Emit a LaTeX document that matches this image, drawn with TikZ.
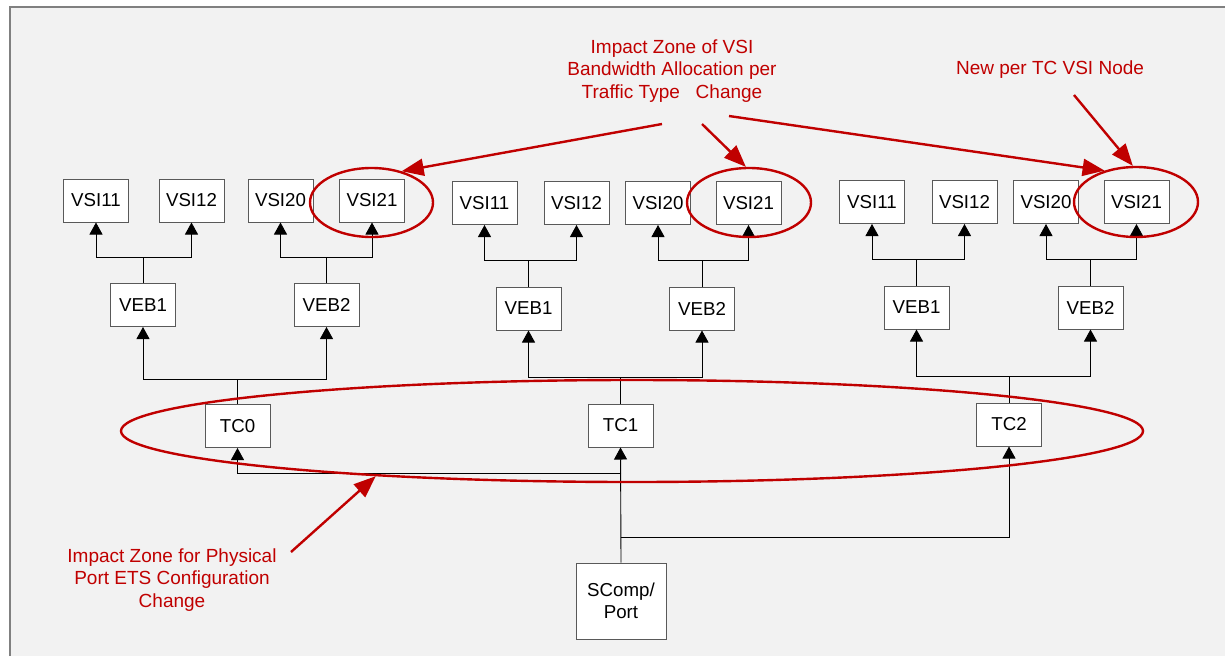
\documentclass[tikz,border=0pt]{standalone}
\usepackage{fontspec}
\setmainfont{Liberation Sans}
\usetikzlibrary{arrows.meta,shapes.geometric,calc}
\definecolor{bgc}{HTML}{F2F2F2}
\definecolor{framec}{HTML}{808080}
\definecolor{boxline}{HTML}{595959}
\definecolor{annot}{RGB}{192,0,0}
\begin{document}
\begin{tikzpicture}[x=1pt,y=-1pt,
  box/.style={draw=boxline,fill=white,line width=1pt,minimum width=65pt,minimum height=43pt,inner sep=0pt,font=\fontsize{18.7}{22.5}\selectfont},
  conn/.style={draw=black,line width=0.9pt,-{Triangle[length=12pt,width=13pt]}},
  zone/.style={draw=annot,line width=2.4pt,ellipse,inner sep=0pt},
  note/.style={text=annot,align=center,font=\fontsize{19}{22.7}\selectfont},
  callout/.style={draw=annot,line width=2.4pt,-{Triangle[length=22pt,width=17pt]}}]
\useasboundingbox (0,0) rectangle (1225,656);
\fill[bgc] (10,7) rectangle (1225,656);
\draw[framec,line width=1.2pt] (10,656) -- (10,7) -- (1225,7);

% group 1
\node[box] (vsi11a) at (96,200.5) {VSI11};
\node[box] (vsi12a) at (191.5,200.5) {VSI12};
\node[box] (vsi20a) at (280.5,200.5) {VSI20};
\node[box] (vsi21a) at (372,200.5) {VSI21};
\node[box] (veb1a) at (143,305) {VEB1};
\node[box] (veb2a) at (326.5,305) {VEB2};
\node[box] (tc0) at (237.5,426) {TC0};
% group 2
\node[box] (vsi11b) at (484.5,203) {VSI11};
\node[box] (vsi12b) at (576.5,203) {VSI12};
\node[box] (vsi20b) at (658,203) {VSI20};
\node[box] (vsi21b) at (748.5,203) {VSI21};
\node[box] (veb1b) at (528.5,308.5) {VEB1};
\node[box] (veb2b) at (702,308.5) {VEB2};
\node[box] (tc1) at (620.5,425.5) {TC1};
% group 3
\node[box] (vsi11c) at (872,202) {VSI11};
\node[box] (vsi12c) at (964.5,202) {VSI12};
\node[box] (vsi20c) at (1046,202) {VSI20};
\node[box] (vsi21c) at (1136.5,202) {VSI21};
\node[box] (veb1c) at (916.5,307.5) {VEB1};
\node[box] (veb2c) at (1090.5,307.5) {VEB2};
\node[box] (tc2) at (1009,424.5) {TC2};
% port
\node[box,minimum width=90pt,minimum height=76pt,align=center] (scomp) at (621,601) {SComp/\\Port};

% connectors VEB -> VSI
\draw[conn] (veb1a.north) -- ++(0,-26) -| (vsi11a.south);
\draw[conn] (veb1a.north) -- ++(0,-26) -| (vsi12a.south);
\draw[conn] (veb2a.north) -- ++(0,-26) -| (vsi20a.south);
\draw[conn] (veb2a.north) -- ++(0,-26) -| (vsi21a.south);
\draw[conn] (veb1b.north) -- ++(0,-26) -| (vsi11b.south);
\draw[conn] (veb1b.north) -- ++(0,-26) -| (vsi12b.south);
\draw[conn] (veb2b.north) -- ++(0,-26) -| (vsi20b.south);
\draw[conn] (veb2b.north) -- ++(0,-26) -| (vsi21b.south);
\draw[conn] (veb1c.north) -- ++(0,-26) -| (vsi11c.south);
\draw[conn] (veb1c.north) -- ++(0,-26) -| (vsi12c.south);
\draw[conn] (veb2c.north) -- ++(0,-26) -| (vsi20c.south);
\draw[conn] (veb2c.north) -- ++(0,-26) -| (vsi21c.south);
% connectors TC -> VEB
\draw[conn] (tc0.north) -- ++(0,-25) -| (veb1a.south);
\draw[conn] (tc0.north) -- ++(0,-25) -| (veb2a.south);
\draw[conn] (tc1.north) -- ++(0,-26) -| (veb1b.south);
\draw[conn] (tc1.north) -- ++(0,-26) -| (veb2b.south);
\draw[conn] (tc2.north) -- ++(0,-26) -| (veb1c.south);
\draw[conn] (tc2.north) -- ++(0,-26) -| (veb2c.south);
% connectors port -> TC
\coordinate (j0) at (621,473);
\coordinate (j2) at (621,537);
\draw[conn] (scomp.north) -- (tc1.south);
\draw[conn] (j0) -| (tc0.south);
\draw[conn] (j2) -| (tc2.south);

% impact zones
\node[zone,minimum width=123pt,minimum height=69pt] (z1) at (371.5,202.5) {};
\node[zone,minimum width=124pt,minimum height=69pt] (z2) at (749,202.5) {};
\node[zone,minimum width=124pt,minimum height=70pt] (z3) at (1136,202) {};
\node[zone,minimum width=1022pt,minimum height=102pt] (zbig) at (632,431) {};

% notes
\node[note] (n1) at (672,71) {Impact Zone of VSI\\Bandwidth Allocation per\\Traffic Type\ \ \ Change};
\node[note] (n2) at (1050,69.5) {New per TC VSI Node};
\node[note] (n3) at (172,580) {Impact Zone for Physical\\Port ETS Configuration\\Change};

\coordinate (a1) at (662,124);
\coordinate (a2) at (702,124);
\coordinate (a3) at (729,116);
\coordinate (a4) at (1074,95);
\coordinate (a5) at (291,552);
\draw[callout] (a1) -- (z1.46);
\draw[callout] (a2) -- (z2.95);
\draw[callout] (a3) -- (z3.135);
\draw[callout] (a4) -- (z3.95);
\draw[callout] (a5) -- (zbig.190);
\end{tikzpicture}
\end{document}
